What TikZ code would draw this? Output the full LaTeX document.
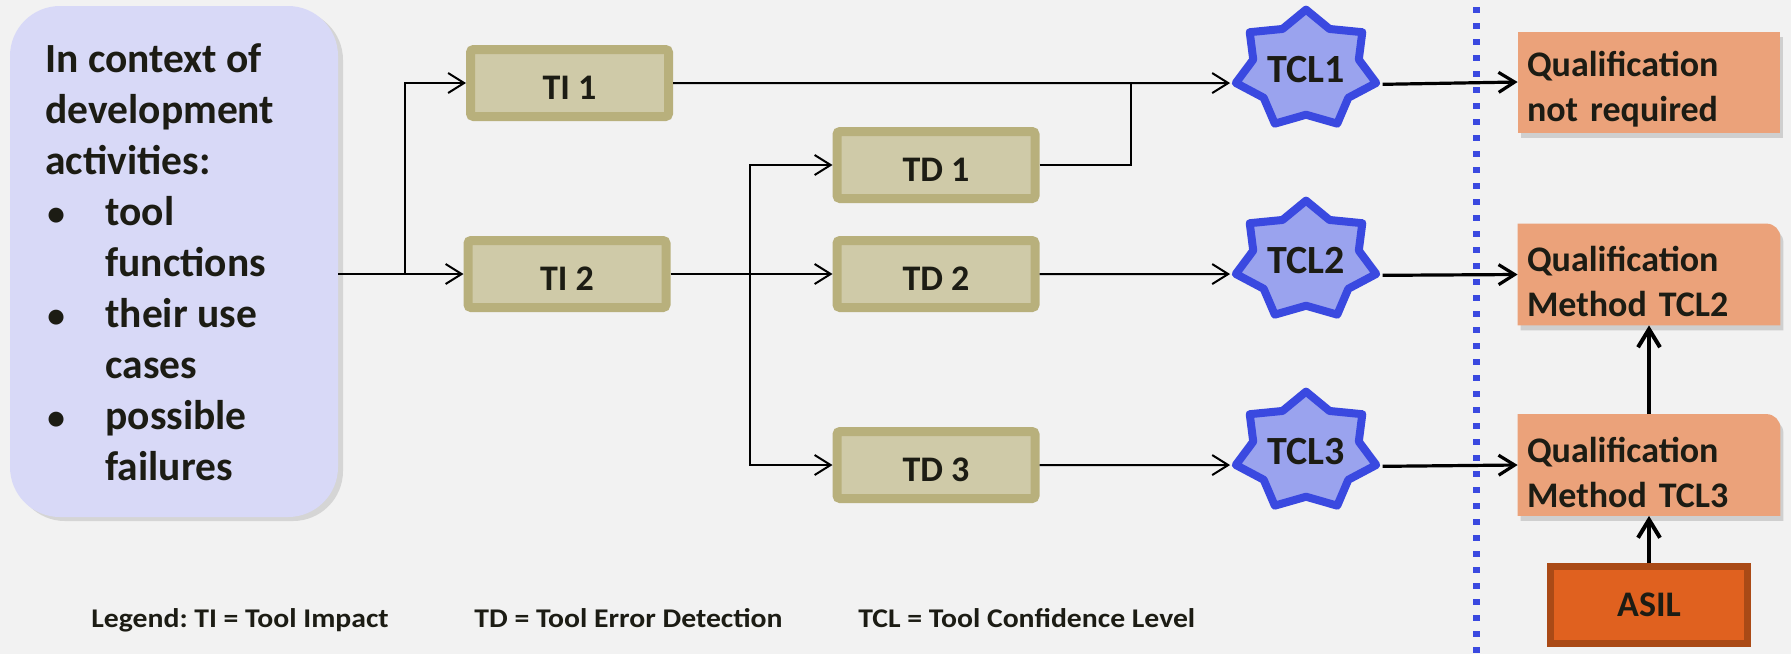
\documentclass[tikz,border=0pt]{standalone}
\usepackage{fontspec}
\setmainfont{Carlito}
\usetikzlibrary{arrows.meta,shapes.geometric,shadows,backgrounds}
\definecolor{bgc}{HTML}{F2F2F2}
\definecolor{ctxc}{HTML}{D8D9F7}
\definecolor{olout}{HTML}{B8B07C}
\definecolor{olin}{HTML}{CFCAA8}
\definecolor{starfill}{HTML}{9AA3EE}
\definecolor{starline}{HTML}{3A49E0}
\definecolor{qfill}{HTML}{EBA27A}
\definecolor{asilfill}{HTML}{E0611F}
\definecolor{asilline}{HTML}{AA4A16}
\definecolor{txt}{HTML}{1C1C14}
\frenchspacing
\begin{document}
\begin{tikzpicture}[x=0.5pt,y=-0.5pt,
  ctxbox/.style={rounded corners=25pt, fill=ctxc, minimum width=164pt, minimum height=255.5pt, inner sep=0,
    drop shadow={shadow xshift=2.5pt, shadow yshift=-2pt, opacity=0.25}},
  ctxtext/.style={inner sep=0, align=left, text=txt, font=\bfseries\fontsize{20.75}{25.5}\selectfont},
  tbox/.style={fill=olin, draw=olout, line width=4.5pt, minimum width=99pt, minimum height=33.5pt, inner sep=0,
    rounded corners=1.5pt, text=txt, text height=16.5pt, text depth=0pt,
    font=\bfseries\fontsize{18}{21}\selectfont,
    drop shadow={shadow xshift=1pt, shadow yshift=-1.5pt, opacity=0.2}},
  tclstar/.style={star, star points=7, star point ratio=1.33, minimum size=60pt, inner sep=0,
    xscale=1.2, transform shape, line join=round,
    fill=starfill, draw=starline, line width=4pt, text=txt, font=\bfseries\fontsize{20}{24}\selectfont},
  qbox/.style={minimum width=131pt, minimum height=50.5pt, inner xsep=4.5pt, inner ysep=0pt, text width=122pt,
    align=left, text=txt, font=\bfseries\fontsize{18}{22.5}\selectfont},
  qshadow/.style={drop shadow={shadow xshift=1.5pt, shadow yshift=-2.5pt, opacity=0.3}},
  asilbox/.style={fill=asilfill, draw=asilline, line width=3.5pt, minimum width=98.5pt, minimum height=38.5pt,
    inner sep=0, text=txt, font=\bfseries\fontsize{18}{21}\selectfont},
  legend/.style={inner sep=0, text=txt, font=\bfseries\fontsize{13.5}{16}\selectfont},
  thinline/.style={line width=1pt, draw=black},
  tarr/.style={thinline, -{Straight Barb[length=8pt,width=10pt]}},
  thickarr/.style={line width=1.6pt, draw=black, -{Straight Barb[length=8pt,width=10pt]}},
  varr/.style={line width=2pt, draw=black, -{Straight Barb[length=9pt,width=11pt]}},
  dotline/.style={draw=starline, line width=3.5pt, dash pattern=on 3pt off 5pt}
]
\begin{scope}[on background layer]
  \fill[bgc] (0,0) rectangle (1791,654);
\end{scope}
\useasboundingbox (0,0) rectangle (1791,654);

% context box
\node[ctxbox] (ctx) at (174,261.5) {};
\newcommand{\bul}{\makebox[30pt][l]{\hspace{1pt}\scalebox{0.85}{•}}}
\node[ctxtext, anchor=north west] (ctxt) at (45,43) {In context of\\development\\activities:\\
\bul tool\\
\hspace*{30pt}functions\\
\bul their use\\
\hspace*{30pt}cases\\
\bul possible\\
\hspace*{30pt}failures};

% TI / TD boxes
\node[tbox] (ti1) at (569.5,83) {TI 1};
\node[tbox] (ti2) at (567,274) {TI 2};
\node[tbox] (td1) at (936,165) {TD 1};
\node[tbox] (td2) at (936,274) {TD 2};
\node[tbox] (td3) at (936,465) {TD 3};

% stars
\node[tclstar] (tcl1) at (1306,69.6) {\makebox[0pt]{\scalebox{0.8333}[1]{TCL1}}};
\node[tclstar] (tcl2) at (1306,260.6) {\makebox[0pt]{\scalebox{0.8333}[1]{TCL2}}};
\node[tclstar] (tcl3) at (1306,451.6) {\makebox[0pt]{\scalebox{0.8333}[1]{TCL3}}};

% qualification boxes
\node[qbox, fill=qfill, qshadow] (q1) at (1649,82) {\rule{0pt}{20pt}Qualification\\not required};
\node[qbox] (q2) at (1649,274.5) {\rule{0pt}{20pt}Qualification\\Method TCL2};
\node[qbox] (q3) at (1649,465) {\rule{0pt}{20pt}Qualification\\Method TCL3};
\begin{scope}[on background layer]
  \fill[qfill, qshadow] (q2.south west) -- (q2.north west) -- ([xshift=-7pt]q2.north east)
     arc[start angle=90, end angle=0, radius=7pt] -- (q2.south east) -- cycle;
  \fill[qfill, qshadow] (q3.south west) -- (q3.north west) -- ([xshift=-7pt]q3.north east)
     arc[start angle=90, end angle=0, radius=7pt] -- (q3.south east) -- cycle;
\end{scope}
\node[asilbox] (asil) at (1649,605) {ASIL};

% divider
\draw[dotline] (1476,7) -- (1476,660);

% coordinates
\coordinate (split1) at (405,274);
\coordinate (split2) at (750,274);
\coordinate (merge1) at (1131,83);

% connectors
\draw[tarr] (ctx.east |- ti2.west) -- (ti2.west);
\draw[tarr] (split1) |- (ti1.west);
\draw[tarr] (ti2.east) -- (td2.west);
\draw[tarr] (split2) |- (td1.west);
\draw[tarr] (split2) |- (td3.west);
\draw[tarr] (ti1.east) -- (tcl1.192.857);
\draw[thinline] (td1.east) -| (merge1);
\draw[tarr] (td2.east) -- (tcl2.192.857);
\draw[tarr] (td3.east) -- (tcl3.192.857);
\draw[thickarr] (tcl1.347.143) -- (q1.west);
\draw[thickarr] (tcl2.347.143) -- (q2.west);
\draw[thickarr] (tcl3.347.143) -- (q3.west);
\draw[varr] (q3.north) -- (q2.south);
\draw[varr] (asil.north) -- (q3.south);

% legend
\node[legend, anchor=base west] (leg1) at (91,627) {\scalebox{1.1}[1]{Legend: TI = Tool Impact}};
\node[legend, anchor=base west] (leg2) at (474,627) {\scalebox{1.1}[1]{TD = Tool Error Detection}};
\node[legend, anchor=base west] (leg3) at (858,627) {\scalebox{1.1}[1]{TCL = Tool Confidence Level}};
\end{tikzpicture}
\end{document}
